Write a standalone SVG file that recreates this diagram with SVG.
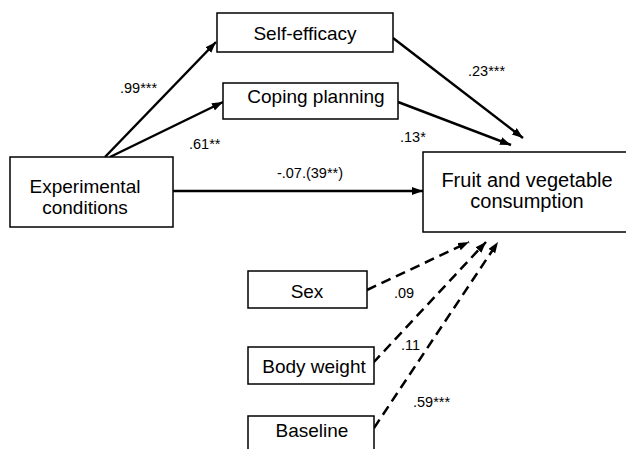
<svg xmlns="http://www.w3.org/2000/svg" width="626" height="449" viewBox="0 0 626 449">
<defs>
<style>
.box{fill:#fff;stroke:#000;stroke-width:1.5}
.t{font-family:"Liberation Sans",Arial,sans-serif;font-size:19px;fill:#000}
.l{font-family:"Liberation Sans",Arial,sans-serif;font-size:14.5px;fill:#000}
.c{stroke:#000;stroke-width:2.5;fill:none}
.d{stroke:#000;stroke-width:2.5;fill:none;stroke-dasharray:10 6}
</style>
<marker id="ah" markerUnits="userSpaceOnUse" markerWidth="12" markerHeight="10" refX="11" refY="4" orient="auto">
<path d="M0,0 L11,4 L0,8 z" fill="#000"/>
</marker>
</defs>
<rect width="626" height="449" fill="#fff"/>
<g id="connectors">
<line class="c" x1="105" y1="157" x2="216" y2="42" marker-end="url(#ah)"/>
<line class="c" x1="110" y1="157" x2="223" y2="102" marker-end="url(#ah)"/>
<line class="c" x1="173" y1="191" x2="423" y2="191" marker-end="url(#ah)"/>
<line class="c" x1="393" y1="38" x2="523" y2="138" marker-end="url(#ah)"/>
<line class="c" x1="398" y1="102" x2="511" y2="145" marker-end="url(#ah)"/>
<line class="d" x1="367" y1="290" x2="469" y2="242" marker-end="url(#ah)"/>
<line class="d" x1="373" y1="363" x2="486" y2="242" marker-end="url(#ah)"/>
<line class="d" x1="374" y1="428" x2="498" y2="242" marker-end="url(#ah)"/>
<text class="l" x="120" y="93">.99***</text>
<text class="l" x="189" y="149">.61**</text>
<text class="l" x="310" y="178" text-anchor="middle">-.07.(39**)</text>
<text class="l" x="468" y="76">.23***</text>
<text class="l" x="400" y="142">.13*</text>
<text class="l" x="394" y="298">.09</text>
<text class="l" x="401" y="350">.11</text>
<text class="l" x="413" y="407">.59***</text>
</g>
<g id="self-efficacy">
<rect class="box" x="217" y="13" width="176" height="39"/>
<text class="t" x="305" y="40" text-anchor="middle">Self-efficacy</text>
</g>
<g id="coping-planning">
<rect class="box" x="223" y="83" width="175" height="36"/>
<text class="t" x="316" y="103" text-anchor="middle">Coping planning</text>
</g>
<g id="experimental-conditions">
<rect class="box" x="10" y="157" width="163" height="70"/>
<text class="t" x="85" y="193" text-anchor="middle">Experimental</text>
<text class="t" x="85" y="214" text-anchor="middle">conditions</text>
</g>
<g id="fruit-vegetable">
<rect class="box" x="423" y="152" width="210" height="80"/>
<text class="t" x="527" y="187" text-anchor="middle" style="font-size:20px">Fruit and vegetable</text>
<text class="t" x="527" y="208" text-anchor="middle" style="font-size:20px">consumption</text>
</g>
<g id="sex">
<rect class="box" x="248" y="271" width="119" height="37"/>
<text class="t" x="307" y="298" text-anchor="middle">Sex</text>
</g>
<g id="body-weight">
<rect class="box" x="248" y="347" width="126" height="37"/>
<text class="t" x="314" y="373" text-anchor="middle">Body weight</text>
</g>
<g id="baseline">
<rect class="box" x="248" y="416" width="126" height="40"/>
<text class="t" x="312" y="437" text-anchor="middle">Baseline</text>
</g>
</svg>
